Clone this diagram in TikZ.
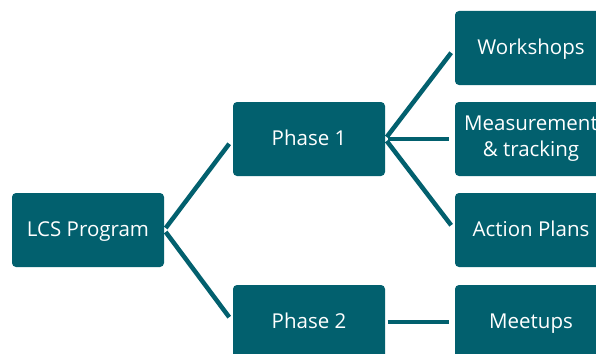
\documentclass[tikz,border=0pt]{standalone}
\usepackage{fontspec}
\setmainfont{Open Sans}
\definecolor{tealbox}{RGB}{2,96,110}
\tikzset{
  box/.style={fill=tealbox, rounded corners=4pt, minimum width=152pt, minimum height=74pt,
    inner sep=0pt, text=white, align=center, font=\fontsize{20.5}{26}\selectfont},
  onebox/.style={box, text height=15pt, text depth=3pt},
  link/.style={draw=tealbox, line width=4.5pt, shorten <=2.5pt, shorten >=6pt}
}
\begin{document}
\begin{tikzpicture}[x=1pt,y=1pt]
                \useasboundingbox (0,0) rectangle (596,-353);
                \clip (0,0) rectangle (596,-353);
                \node[onebox] (lcs) at (88,-230) {LCS Program};
                \node[onebox] (p1) at (309,-139) {Phase 1};
                \node[onebox] (p2) at (309,-322) {Phase 2};
                \node[onebox] (ws) at (531,-48) {Workshops};
                \node[box] (mt) at (531,-139) {Measurement\\\& tracking};
                \node[onebox] (ap) at (531,-230) {Action Plans};
                \node[onebox] (mu) at (531,-322) {Meetups};
                \draw[link] (lcs.east) -- (p1.west);
                \draw[link] (lcs.east) -- (p2.west);
                \draw[link] (p1.east) -- (ws.west);
                \draw[link] (p1.east) -- (mt.west);
                \draw[link] (p1.east) -- (ap.west);
                \draw[link] (p2.east) -- (mu.west);
            \end{tikzpicture}
\end{document}
